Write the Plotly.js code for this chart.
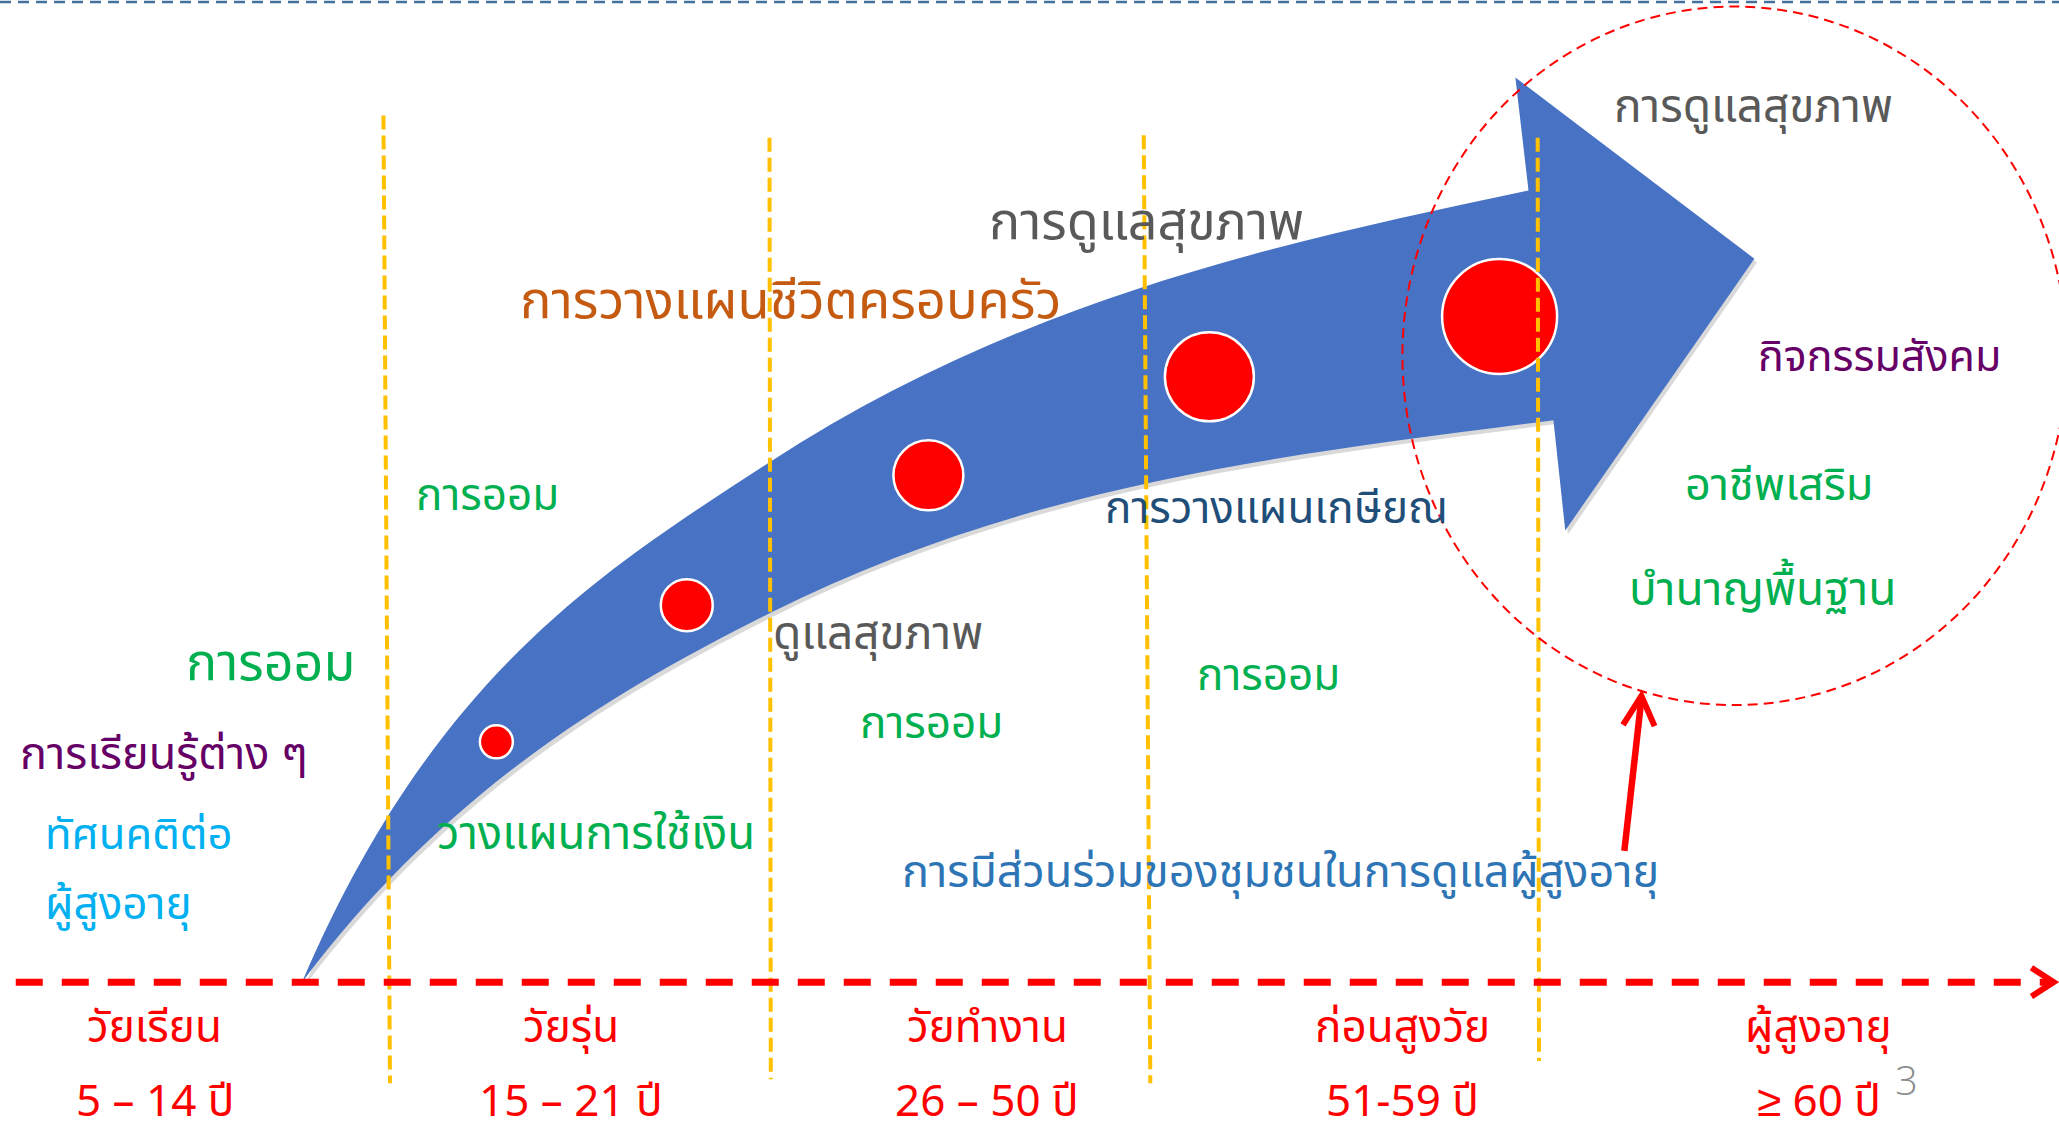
<!DOCTYPE html>
<html><head><meta charset="utf-8">
<script src="https://cdn.plot.ly/plotly-3.0.1.min.js"></script>
<style>html,body{margin:0;padding:0;background:#fff;overflow:hidden} #chart{width:2059px;height:1141px;}</style>
</head><body><div id="chart"></div>
<script>
// ---- data ----
const stageNames = ["วัยเรียน", "วัยรุ่น", "วัยทำงาน", "ก่อนสูงวัย", "ผู้สูงอายุ"];
const stageAges = ["5 – 14 ปี", "15 – 21 ปี", "26 – 50 ปี", "51-59 ปี", "≥ 60 ปี"];
const milestoneX = [378, 523, 707, 921, 1142];
const milestoneY = [565, 461, 362, 287, 241];
const milestoneSize = [33, 52, 70, 89, 115];
const labelTexts = ["การดูแลสุขภาพ", "การดูแลสุขภาพ", "การวางแผนชีวิตครอบครัว", "กิจกรรมสังคม", "อาชีพเสริม",
  "การออม", "การวางแผนเกษียณ", "บำนาญพื้นฐาน", "ดูแลสุขภาพ", "การออม", "การออม", "การออม",
  "การเรียนรู้ต่าง ๆ", "วางแผนการใช้เงิน", "ทัศนคติต่อ", "ผู้สูงอายุ", "การมีส่วนร่วมของชุมชนในการดูแลผู้สูงอายุ"];
const pageNumber = "3";

// ---- layout helpers (positions / styles) ----
const FONT = "'Noto Sans Thai', 'Leelawadee UI', Tahoma, 'Noto Sans', sans-serif";
const labelPos = [
  [1335, 82, 'center', '#595959', 46], [873, 170, 'center', '#595959', 52], [602, 230, 'center', '#C55A11', 52.5],
  [1431, 272, 'center', '#660066', 43], [1355, 370, 'center', '#00B050', 45], [371, 378, 'center', '#00B050', 44],
  [972, 388, 'center', '#1F4E79', 44], [1342, 450, 'center', '#00B050', 46], [669, 484, 'center', '#595959', 46],
  [206, 506, 'center', '#00B050', 52], [966, 515, 'center', '#00B050', 44], [709, 552, 'center', '#00B050', 44],
  [125, 575, 'center', '#660066', 45], [454, 636, 'center', '#00B050', 45.5], [33, 637, 'left', '#00B0F0', 43.5],
  [33, 690, 'left', '#00B0F0', 44], [975, 665, 'center', '#2E75B6', 45]
];
const stageX = [118, 435, 752, 1068, 1385];

// arrow outline as cubic bezier segments (display coordinates)
function arrowPath(dx, dy) {
  const P = (x, y) => `${x+dx},${y+dy}`;
  return `M ${P(230,748)} C ${P(330,515)} ${P(456,436.5)} ${P(586,352)}` +
    ` C ${P(776,228.5)} ${P(974,185)} ${P(1164,145)}` +
    ` L ${P(1154,59)} L ${P(1336,197)} L ${P(1192,404)} L ${P(1183,320)}` +
    ` C ${P(983,346)} ${P(786,367)} ${P(586,467)}` +
    ` C ${P(466,527)} ${P(340,602)} ${P(230,748)} Z`;
}

const shapes = [];
shapes.push({type:'line', xref:'x', yref:'y', x0:0, x1:1568, y0:1.5, y1:1.5, line:{color:'#41719C', width:2.5, dash:'11px,7px'}, layer:'below'});
shapes.push({type:'path', xref:'x', yref:'y', path: arrowPath(2, 3), fillcolor:'rgba(0,0,0,0.15)', line:{width:0}, layer:'below'});
shapes.push({type:'path', xref:'x', yref:'y', path: arrowPath(0, 0), fillcolor:'#4873c5', line:{width:0}, layer:'below'});
// orange dividers
[[292,88,297,825],[586,105,587,822],[871,103,876,825],[1171,105,1172,808]].forEach(l => {
  shapes.push({type:'line', xref:'x', yref:'y', x0:l[0], y0:l[1], x1:l[2], y1:l[3], line:{color:'#FFC000', width:4, dash:'14px,6px'}, layer:'above'});
});
// red dashed timeline
shapes.push({type:'line', xref:'x', yref:'y', x0:12, x1:1560, y0:748, y1:748, line:{color:'#FF0000', width:7, dash:'27px,19px'}, layer:'above'});
shapes.push({type:'path', xref:'x', yref:'y', path:'M 1547,737 L 1564,748 L 1547,759', line:{color:'#FF0000', width:6}, layer:'above'});
// dashed circle
shapes.push({type:'circle', xref:'x', yref:'y', x0:1068, x1:1574, y0:5, y1:537, line:{color:'#FF0000', width:2, dash:'10px,6px'}, layer:'above'});
// red pointer arrow
shapes.push({type:'line', xref:'x', yref:'y', x0:1237, y0:648, x1:1250, y1:532, line:{color:'#FF0000', width:6.5}, layer:'above'});
shapes.push({type:'path', xref:'x', yref:'y', path:'M 1236,552 L 1250,530 L 1260,553', line:{color:'#FF0000', width:6}, layer:'above'});

const annotations = [];
labelTexts.forEach((t, i) => {
  const p = labelPos[i];
  annotations.push({x:p[0], y:p[1], xref:'x', yref:'y', text:t, showarrow:false, xanchor:p[2], yanchor:'middle',
    font:{family:FONT, size:p[4], color:p[3]}});
});
stageNames.forEach((t, i) => {
  annotations.push({x:stageX[i], y:783, xref:'x', yref:'y', text:t, showarrow:false, xanchor:'center', yanchor:'middle', font:{family:FONT, size:44, color:'#FF0000'}});
  annotations.push({x:stageX[i], y:840, xref:'x', yref:'y', text:stageAges[i], showarrow:false, xanchor:'center', yanchor:'middle', font:{family:FONT, size:44, color:'#FF0000'}});
});
annotations.push({x:1452, y:822, xref:'x', yref:'y', text:pageNumber, showarrow:false, xanchor:'center', yanchor:'middle', font:{family:"'Open Sans', 'Noto Sans', sans-serif", size:40, color:'#8C8C8C', weight:300}});

const traces = [{
  type:'scatter', mode:'markers', x:milestoneX, y:milestoneY,
  marker:{size:milestoneSize, sizemode:'diameter', color:'#FF0000', line:{color:'#FFFFFF', width:2.5}, opacity:1},
  hoverinfo:'skip', showlegend:false
}];

const layout = {
  width:2059, height:1141, margin:{l:0, r:0, t:0, b:0},
  paper_bgcolor:'#FFFFFF', plot_bgcolor:'#FFFFFF', showlegend:false,
  xaxis:{range:[0,1568], visible:false, fixedrange:true},
  yaxis:{range:[869,0], visible:false, fixedrange:true},
  shapes:shapes, annotations:annotations
};
Plotly.newPlot('chart', traces, layout, {staticPlot:true, displayModeBar:false});
</script></body></html>
